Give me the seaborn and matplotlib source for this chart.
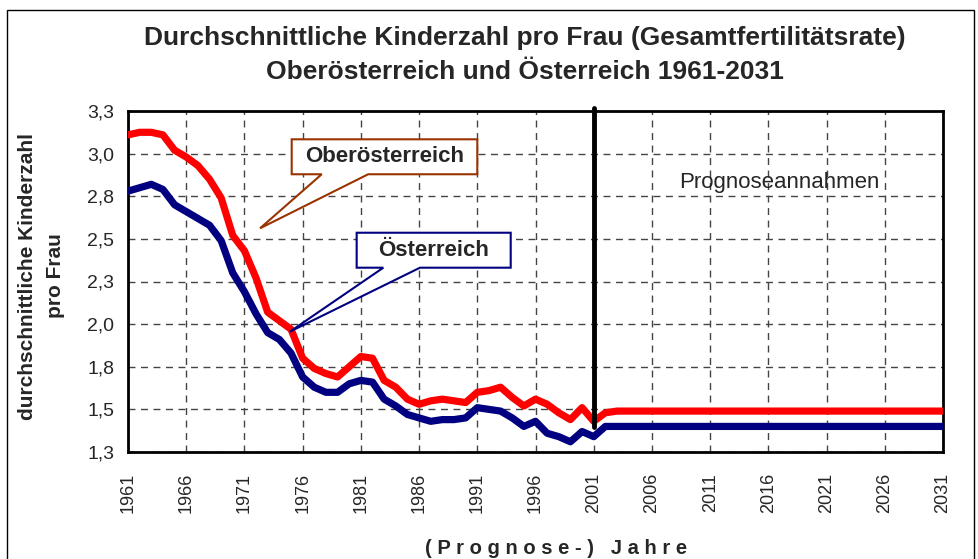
import pandas as pd
import matplotlib.pyplot as plt
from matplotlib.patches import Polygon, Rectangle
import seaborn as sns

# -------------------------
# Data
# -------------------------
years = list(range(1961, 2032))

# Oberösterreich: 1961-2001 observed, 2002-2031 assumption
ooe = [3.11, 3.125, 3.125, 3.11, 3.02, 2.98, 2.93, 2.85, 2.74, 2.52,
       2.43, 2.27, 2.07, 2.02, 1.97, 1.80, 1.74, 1.71, 1.69, 1.75,
       1.81, 1.80, 1.67, 1.63, 1.56, 1.53, 1.55, 1.56, 1.55, 1.54,
       1.60, 1.61, 1.63, 1.57, 1.52, 1.56, 1.53, 1.48, 1.44, 1.51,
       1.43, 1.48, 1.49, 1.49, 1.49, 1.49, 1.49, 1.49, 1.49, 1.49,
       1.49, 1.49, 1.49, 1.49, 1.49, 1.49, 1.49, 1.49, 1.49, 1.49,
       1.49, 1.49, 1.49, 1.49, 1.49, 1.49, 1.49, 1.49, 1.49, 1.49,
       1.49]

# Österreich
oe = [2.78, 2.80, 2.82, 2.79, 2.70, 2.66, 2.62, 2.58, 2.49, 2.30,
      2.19, 2.06, 1.95, 1.91, 1.83, 1.69, 1.63, 1.60, 1.60, 1.65,
      1.67, 1.66, 1.56, 1.52, 1.47, 1.45, 1.43, 1.44, 1.44, 1.45,
      1.51, 1.50, 1.49, 1.45, 1.40, 1.43, 1.36, 1.34, 1.31, 1.37,
      1.34, 1.40, 1.40, 1.40, 1.40, 1.40, 1.40, 1.40, 1.40, 1.40,
      1.40, 1.40, 1.40, 1.40, 1.40, 1.40, 1.40, 1.40, 1.40, 1.40,
      1.40, 1.40, 1.40, 1.40, 1.40, 1.40, 1.40, 1.40, 1.40, 1.40,
      1.40]

y_ticks = [1.25, 1.5, 1.75, 2.0, 2.25, 2.5, 2.75, 3.0, 3.25]
y_ticklabels = ["1,3", "1,5", "1,8", "2,0", "2,3", "2,5", "2,8", "3,0", "3,3"]
x_ticks = list(range(1961, 2032, 5))
prognose_start = 2001

df = pd.DataFrame({"Jahr": years + years,
                   "Rate": ooe + oe,
                   "Region": ["Oberösterreich"] * len(years) + ["Österreich"] * len(years)})

# -------------------------
# Style
# -------------------------
sns.set_style("white")
plt.rcParams['font.family'] = ['Liberation Sans', 'DejaVu Sans']

fig = plt.figure(figsize=(9.79, 5.59), dpi=100)
ax = fig.add_axes([128 / 979, 1 - 452 / 559, (943 - 128) / 979, (452 - 111) / 559])

sns.lineplot(data=df, x="Jahr", y="Rate", hue="Region",
             palette={"Oberösterreich": "#FF0000", "Österreich": "#000080"},
             linewidth=5.2, legend=False, ax=ax, zorder=3)

ax.set_xlim(1961, 2031)
ax.set_ylim(1.25, 3.25)
ax.set_xticks(x_ticks)
ax.set_xticklabels([str(y) for y in x_ticks], rotation=90, fontsize=13)
ax.set_yticks(y_ticks)
ax.set_yticklabels(y_ticklabels, fontsize=14)
ax.tick_params(axis='both', direction='out', length=5, width=1, color='black', pad=5)
ax.tick_params(axis='x', pad=10)

ax.grid(True, linestyle=(0, (5, 4)), color='#444444', linewidth=1)
for s in ax.spines.values():
    s.set_color('black')
    s.set_linewidth(2)

ax.set_xlabel("( P r o g n o s e - )   J a h r e", fontsize=14.5, fontweight='bold')
ax.xaxis.set_label_coords((556 - 128) / 815, -(549 - 452) / 341)
ax.xaxis.label.set_va('center')
ax.set_ylabel("durchschnittliche Kinderzahl\npro Frau", fontsize=15, fontweight='bold', linespacing=1.6)
ax.yaxis.set_label_coords(-(128 - 41) / 815, (452 - 276) / 341)
ax.yaxis.label.set_va('center')

# vertical line at start of the assumptions
ax.axvline(prognose_start, ymin=0.072, ymax=1.01, color='black', linewidth=3.5, zorder=4, clip_on=False)
ax.text(2016.9, 2.83, "Prognoseannahmen", fontsize=16, ha='center', va='center')

# -------------------------
# Callout labels
# -------------------------
def callout(x0, x1, y0, y1, bx0, bx1, tip, text, color):
    pts = [(x0, y1), (x1, y1), (x1, y0), (bx1, y0), tip, (bx0, y0), (x0, y0)]
    ax.add_patch(Polygon(pts, closed=True, facecolor='white', edgecolor=color, linewidth=1.5, zorder=5))
    ax.text((x0 + x1) / 2, (y0 + y1) / 2, text, fontsize=16, fontweight='bold',
            ha='center', va='center', zorder=6)

callout(1975.06, 1991.0, 2.879, 3.084, 1977.64, 1981.63, (1972.34, 2.562), "Oberösterreich", "#993300")
callout(1980.64, 1993.87, 2.331, 2.536, 1982.93, 1986.08, (1974.91, 1.956), "Österreich", "#000080")

# -------------------------
# Title and outer frame
# -------------------------
fig.text(525 / 979, 1 - 38 / 559, "Durchschnittliche Kinderzahl pro Frau (Gesamtfertilitätsrate)",
         fontsize=19, fontweight='bold', ha='center', va='center')
fig.text(525 / 979, 1 - 72 / 559, "Oberösterreich und Österreich 1961-2031",
         fontsize=19, fontweight='bold', ha='center', va='center')
fig.patches.append(Rectangle((7 / 979, -0.05), (974 - 7) / 979, 1.05 - 10 / 559,
                             transform=fig.transFigure, fill=False, edgecolor='black', linewidth=1))

plt.savefig("out.png", dpi=100, facecolor='white')
plt.close()
